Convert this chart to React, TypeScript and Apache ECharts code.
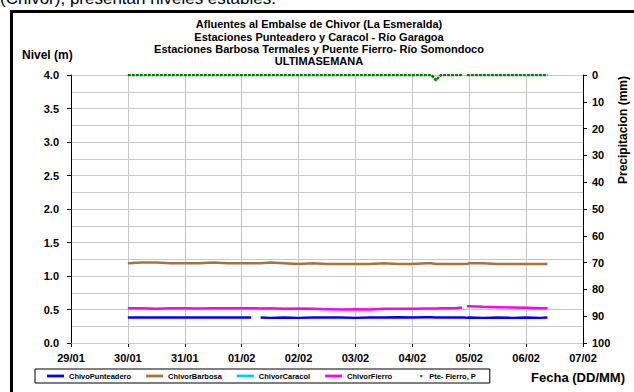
import React, { useEffect, useRef } from "react";
import * as echarts from "echarts";

const FONT = "'Liberation Sans', Arial, sans-serif";

const tickLabels = ["29/01", "30/01", "31/01", "01/02", "02/02", "03/02", "04/02", "05/02", "06/02", "07/02"];
const leftTicks = ["0.0", "0.5", "1.0", "1.5", "2.0", "2.5", "3.0", "3.5", "4.0"];

const times = [
  "30/01 00:00", "30/01 06:00", "30/01 12:00", "30/01 18:00",
  "31/01 00:00", "31/01 06:00", "31/01 12:00", "31/01 18:00",
  "01/02 00:00", "01/02 04:00", "01/02 06:00", "01/02 08:00", "01/02 12:00", "01/02 18:00",
  "02/02 00:00", "02/02 06:00", "02/02 12:00", "02/02 18:00",
  "03/02 00:00", "03/02 06:00", "03/02 12:00", "03/02 18:00",
  "04/02 00:00", "04/02 06:00", "04/02 08:00", "04/02 10:00", "04/02 12:00", "04/02 18:00", "04/02 21:00", "04/02 22:00", "04/02 23:00",
  "05/02 00:00", "05/02 06:00", "05/02 12:00", "05/02 18:00",
  "06/02 00:00", "06/02 06:00", "06/02 09:00",
];

const punteadero = [
  0.38, 0.38, 0.38, 0.38,
  0.38, 0.38, 0.38, 0.38,
  0.38, 0.38, null, 0.38, 0.375, 0.38,
  0.375, 0.38, 0.38, 0.38,
  0.375, 0.38, 0.38, 0.385,
  0.38, 0.385, 0.385, 0.38, 0.38, 0.38, 0.38, 0.38, 0.375,
  0.38, 0.375, 0.38, 0.375,
  0.38, 0.375, 0.38,
];

const barbosa = [
  1.19, 1.2, 1.2, 1.19,
  1.19, 1.19, 1.2, 1.19,
  1.19, 1.19, 1.19, 1.19, 1.2, 1.19,
  1.18, 1.19, 1.18, 1.18,
  1.18, 1.18, 1.19, 1.18,
  1.18, 1.19, 1.19, 1.18, 1.18, 1.18, 1.18, 1.18, 1.18,
  1.19, 1.19, 1.18, 1.18,
  1.18, 1.18, 1.18,
];

const caracol: (number | null)[] = [];

const fierro = [
  0.52, 0.52, 0.51, 0.52,
  0.52, 0.515, 0.52, 0.52,
  0.52, 0.52, 0.52, 0.515, 0.52, 0.51,
  0.515, 0.51, 0.505, 0.5,
  0.505, 0.5, 0.51, 0.51,
  0.51, 0.515, 0.515, 0.515, 0.52, 0.52, 0.53, null, 0.55,
  0.55, 0.54, 0.535, 0.53,
  0.525, 0.52, 0.52,
];

const fierroPrecip = [
  0, 0, 0, 0,
  0, 0, 0, 0,
  0, 0, 0, 0, 0, 0,
  0, 0, 0, 0,
  0, 0, 0, 0,
  0, 0, 0, 2, 0, 0, 0, null, 0,
  0, 0, 0, 0,
  0, 0, 0,
];

const seriesNames = ["ChivoPunteadero", "ChivorBarbosa", "ChivorCaracol", "ChivorFierro", "Pte- Fierro, P"];
const seriesColors = ["#0000FF", "#A8743A", "#00CCFF", "#FF00FF", "#008000"];

const titleLines = [
  "Afluentes al Embalse de Chivor (La Esmeralda)",
  "Estaciones Punteadero y Caracol - Río Garagoa",
  "Estaciones Barbosa Termales y Puente Fierro- Río Somondoco",
  "ULTIMASEMANA",
];

const LINE_ICON = "path://M0,0M17,8M0,2.6h17v2.8h-17z";
const DOT_ICON = "path://M0,0M17,8M13,3h2.2v2.2h-2.2z";

function toX(t: string): number {
  const [d, h] = t.split(" ");
  const [hh, mm] = h.split(":").map(Number);
  return tickLabels.indexOf(d) + (hh + mm / 60) / 24;
}

function pairs(vals: (number | null)[]) {
  return vals.map((v, i) => [toX(times[i]), v]);
}

export default function App() {
  const ref = useRef<HTMLDivElement>(null);
  useEffect(() => {
    if (!ref.current) return;
    const chart = echarts.init(ref.current, null, { renderer: "svg" });
    const axisText = { color: "#000", fontFamily: FONT, fontWeight: "bold" as const, fontSize: 11 };
    const gridColor = "#C8C8C8";
    const lineSeries = (idx: number, data: (number | null)[], width: number, extra: any = {}) => ({
      name: seriesNames[idx],
      type: "line",
      data: pairs(data),
      symbol: "none",
      connectNulls: false,
      color: seriesColors[idx],
      lineStyle: { color: seriesColors[idx], width, ...(extra.lineStyle || {}) },
      yAxisIndex: extra.yAxisIndex || 0,
      z: extra.z || 2,
    });
    chart.setOption({
      animation: false,
      backgroundColor: "#fff",
      grid: { left: 71, right: 51, top: 75, bottom: 49, containLabel: false },
      xAxis: {
        type: "value",
        min: 0,
        max: 9,
        interval: 1,
        axisLine: { show: true, lineStyle: { color: "#000", width: 1 } },
        axisTick: { show: true, length: 4, lineStyle: { color: "#000" } },
        axisLabel: { ...axisText, margin: 9, formatter: (v: number) => tickLabels[Math.round(v)] },
        splitLine: { show: true, lineStyle: { color: gridColor, width: 1 } },
      },
      yAxis: [
        {
          type: "value",
          min: 0,
          max: 4,
          interval: 0.5,
          position: "left",
          axisLine: { show: true, lineStyle: { color: "#000", width: 1 } },
          axisTick: { show: true, length: 4, lineStyle: { color: "#000" } },
          axisLabel: { ...axisText, margin: 12, formatter: (v: number) => leftTicks[Math.round(v * 2)] },
          splitLine: { show: true, lineStyle: { color: gridColor, width: 1 } },
          z: 1,
        },
        {
          type: "value",
          min: 0,
          max: 100,
          interval: 10,
          inverse: true,
          position: "right",
          axisLine: { show: true, lineStyle: { color: "#000", width: 1 } },
          axisTick: { show: true, length: 4, lineStyle: { color: "#000" } },
          axisLabel: { ...axisText, margin: 9 },
          splitLine: { show: false },
        },
        {
          type: "value",
          min: 0,
          max: 4,
          interval: 0.25,
          position: "left",
          show: true,
          axisLine: { show: false },
          axisTick: { show: false },
          axisLabel: { show: false },
          splitLine: { show: true, lineStyle: { color: gridColor, width: 1 } },
          z: 0,
        },
      ],
      legend: {
        left: 35,
        top: 369,
        orient: "horizontal",
        borderColor: "#000",
        borderWidth: 1,
        borderRadius: 0,
        padding: [3, 14, 3, 12],
        itemWidth: 17,
        itemHeight: 8,
        itemGap: 15,
        selectedMode: false,
        textStyle: { color: "#000", fontFamily: FONT, fontWeight: "bold", fontSize: 7.5 },
        data: [
          { name: seriesNames[0], icon: LINE_ICON },
          { name: seriesNames[1], icon: LINE_ICON },
          { name: seriesNames[2], icon: LINE_ICON },
          { name: seriesNames[3], icon: LINE_ICON },
          { name: seriesNames[4], icon: DOT_ICON },
        ],
      },
      series: [
        lineSeries(0, punteadero, 2.5),
        lineSeries(1, barbosa, 2.5),
        lineSeries(2, caracol, 2),
        lineSeries(3, fierro, 2.5),
        lineSeries(4, fierroPrecip, 2.5, { yAxisIndex: 1, lineStyle: { type: [3, 1] }, z: 3 }),
      ],
      graphic: [
        {
          type: "text",
          left: 0,
          top: -10,
          silent: true,
          style: { text: "(Chivor), presentan niveles estables.", font: `17px ${FONT}`, fill: "#000" },
        },
        {
          type: "rect",
          shape: { x: 11.5, y: 11.5, width: 700, height: 500 },
          silent: true,
          style: { fill: "none", stroke: "#000", lineWidth: 3 },
        },
        {
          type: "text",
          x: 319,
          y: 18,
          silent: true,
          style: {
            text: titleLines.join("\n"),
            font: `bold 11px ${FONT}`,
            fill: "#000",
            align: "center",
            verticalAlign: "top",
            lineHeight: 12.4,
          },
        },
        {
          type: "text",
          x: 22,
          y: 55,
          silent: true,
          style: { text: "Nivel (m)", font: `bold 12px ${FONT}`, fill: "#000", verticalAlign: "middle" },
        },
        {
          type: "text",
          x: 625,
          y: 377,
          silent: true,
          style: { text: "Fecha (DD/MM)", font: `bold 13px ${FONT}`, fill: "#000", align: "right", verticalAlign: "middle" },
        },
        {
          type: "text",
          x: 623,
          y: 130,
          rotation: Math.PI / 2,
          silent: true,
          style: { text: "Precipitacion (mm)", font: `bold 12px ${FONT}`, fill: "#000", align: "center", verticalAlign: "middle" },
        },
      ],
    });
    return () => chart.dispose();
  }, []);
  return (
    <div
      ref={ref}
      style={{ position: "fixed", left: 0, top: 0, width: 634, height: 392, background: "#fff" }}
    />
  );
}
